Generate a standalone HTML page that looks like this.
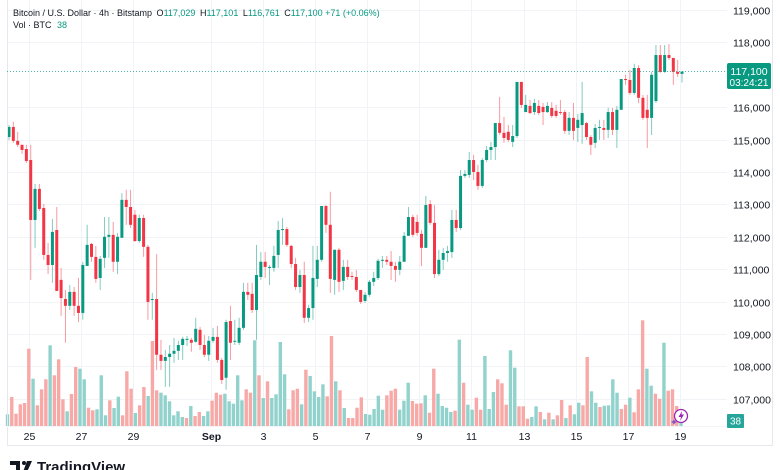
<!DOCTYPE html>
<html><head><meta charset="utf-8">
<style>
html,body{margin:0;padding:0;background:#fff;width:780px;height:470px;overflow:hidden;font-family:"Liberation Sans",sans-serif;}
svg{display:block}
text{font-family:"Liberation Sans",sans-serif}
</style></head>
<body>
<svg id="chart" width="780" height="470" viewBox="0 0 780 470" xmlns="http://www.w3.org/2000/svg">
  <rect x="0" y="0" width="780" height="470" fill="#ffffff"/>
  <g id="grid"></g>
  <g id="vol"></g>
  <g id="candles"></g>
  <g id="axes"></g>
  <line x1="7.5" y1="0" x2="7.5" y2="445" stroke="#e6e8ee"/>
  <line x1="7" y1="445.5" x2="773" y2="445.5" stroke="#e6e8ee"/>
  <line x1="772.5" y1="0" x2="772.5" y2="445" stroke="#e6e8ee"/>
  <line x1="7" y1="426.5" x2="727" y2="426.5" stroke="#f2f3f6"/>
  <text x="13" y="16" font-size="9" fill="#131722">Bitcoin / U.S. Dollar · 4h · Bitstamp <tspan dx="2">O</tspan><tspan fill="#089981">117,029</tspan> <tspan dx="2">H</tspan><tspan fill="#089981">117,101</tspan> <tspan dx="2">L</tspan><tspan fill="#089981">116,761</tspan> <tspan dx="2">C</tspan><tspan fill="#089981">117,100</tspan> <tspan fill="#089981">+71 (+0.06%)</tspan></text>
  <text x="13" y="28" font-size="9" fill="#131722">Vol · BTC <tspan fill="#089981" dx="3">38</tspan></text>
  <line x1="7" y1="71.5" x2="727" y2="71.5" stroke="#089981" stroke-width="1" stroke-dasharray="1,2" opacity="0.7"/>
  <rect x="727" y="63" width="44" height="26" rx="2" fill="#089981"/>
  <text x="749" y="75" font-size="10.5" fill="#fff" text-anchor="middle">117,100</text>
  <text x="749" y="86" font-size="10" fill="#fff" text-anchor="middle">03:24:21</text>
  <rect x="727" y="414" width="17" height="14" rx="1" fill="#26a69a"/>
  <text x="735.5" y="424.5" font-size="10" fill="#fff" text-anchor="middle">38</text>
  <g>
    <circle cx="681" cy="416" r="6.5" fill="#fff" stroke="#9c27b0" stroke-width="1.3"/>
    <path d="M682 411 L678.5 417 L681 417 L680 421 L684 414.5 L681.5 414.5 Z" fill="#9c27b0"/>
    <path d="M674 419 l1 2 l2 1 l-2 1 l-1 2 l-1 -2 l-2 -1 l2 -1 Z" fill="#7e57c2"/>
  </g>
  <g>
    <path d="M10 461 h10 v11 h-4 v-7 h-6 Z" fill="#131722"/>
    <circle cx="24" cy="463" r="2" fill="#131722"/>
    <path d="M27 461 h5 l-5 11 h-4 Z" fill="#131722"/>
    <text x="37" y="472" font-size="15" font-weight="bold" fill="#131722">TradingView</text>
  </g>
</svg>
<script>
// ---- data ----
const open = [115080,115390,114960,114840,114710,114370,112520,113480,112890,111440,111130,112210,110670,110080,109870,110300,109870,109650,111100,111780,111380,110730,111350,112000,112060,111230,111970,113140,112920,112680,111870,112580,111690,110050,110080,108360,108170,108290,108390,108480,108660,108820,108820,108760,109130,108660,108360,108790,108910,108200,107650,109400,108760,108730,109190,110300,110240,109740,110760,111230,111040,111040,111440,112210,112240,111720,111160,110450,110820,109500,109800,110700,111290,112950,112370,110670,111600,110640,111070,110790,110760,110360,110020,110210,110610,110730,111260,111290,111230,111100,110980,111230,112030,112610,112460,112090,111660,113010,112430,110850,111290,111500,111530,112520,112270,113880,113910,114370,114000,113570,114370,114680,114770,115510,115210,115240,114930,115110,116780,115850,116040,115850,116040,116010,115850,115980,115890,115850,115850,115270,115670,115360,115450,115510,115080,114900,115360,115360,115300,115850,115300,115920,116870,116840,116440,117210,116290,115920,115670,116190,117610,117090,117610,117520,117090,117029];
const close = [115390,114960,114840,114680,114340,112520,113480,112860,111440,111130,112150,110330,110110,109870,110300,109870,109650,111130,111750,111380,110700,111320,112000,112060,111230,112000,113140,112920,112370,111870,112580,111690,109990,110080,108360,108170,108290,108390,108480,108660,108850,108850,108730,109160,108660,108360,108790,108910,108200,107580,109370,108730,108790,109190,110300,110210,109740,110820,111230,111070,111070,111410,112210,112240,111750,111160,110450,110820,109500,109800,110730,111290,112950,112370,110700,111600,110610,111070,110760,110760,110360,109990,110210,110610,110730,111260,111290,111230,111100,110980,111230,112030,112610,112060,112120,111660,112980,112430,110850,111290,111500,111560,112520,112270,113880,113940,114370,114000,113570,114370,114680,114770,115510,115210,115050,114990,115110,116780,116070,116070,115820,116130,115820,115850,116040,115730,115730,115820,115270,115670,115270,115610,115820,115080,114840,115360,115390,115300,115850,115300,115920,116870,116840,116440,117210,116290,115670,115670,117000,117610,117090,117610,117520,117090,117030,117100];
const high = [115450,115550,115240,114840,114840,114840,113630,113630,113010,111810,112550,112920,111040,110360,110510,110450,110730,111230,112370,111810,111720,111410,112610,112610,112460,112120,113350,113450,113450,112830,112680,112680,111750,110270,111470,108820,108510,108660,108880,108790,108910,108940,108880,109500,109220,108970,108940,109190,109250,108260,109440,109870,109440,109500,110580,110580,110580,111750,111530,111530,111130,111720,112490,112580,112300,111750,111350,110980,111230,109900,111720,111720,112950,112980,113390,111600,111660,111290,111290,110920,110980,110360,110300,110670,110920,111320,111410,111410,111560,111230,111410,112150,112920,112680,112680,112210,113260,113140,112980,111600,111660,111720,112830,112830,114060,114060,114620,114530,114220,114430,114800,114930,115510,116320,115700,115450,115450,116780,116780,116380,116220,116260,116220,116130,116160,116160,116070,116220,115920,115850,116130,115790,116780,115550,115140,115480,115610,115610,115980,115980,116040,116870,117000,117150,117340,117300,116380,116380,117090,117920,117920,117920,117950,117520,117460,117101];
const low = [114990,114900,114770,114560,114280,110670,111660,112800,111290,110850,110580,110330,109560,108730,109740,109560,109370,109440,111100,111230,110580,110360,111040,111350,110920,110850,111970,112370,112270,111840,111810,111380,109440,109440,107890,107890,107370,107370,108110,108200,108200,108630,108450,108730,108510,108290,108170,108730,108110,107460,107280,108200,108660,108660,109130,110050,109650,108820,110670,110730,110510,110920,111040,111750,111690,111040,110360,110270,109340,109370,109440,110450,111230,112120,110270,110210,110300,110360,110670,110670,110300,109930,109960,110150,110480,110670,111040,111130,110670,110610,110820,111230,112030,112000,112030,111100,111660,112370,110730,110790,110980,111230,111350,112150,112210,113820,113820,113750,113450,113510,114310,114370,114370,115140,114900,114930,114770,115050,115980,115850,115790,115760,115760,115450,115820,115670,115670,115760,115180,115140,114990,114930,114870,114990,114530,114740,114990,114990,115050,115140,114740,115920,116690,116380,116380,116130,115610,114740,115140,116130,117060,117060,117460,116690,116930,116761];
const volume = [117,290,123,217,230,773,473,207,367,467,807,507,667,267,147,320,590,573,467,183,157,167,507,107,257,180,293,107,547,373,130,207,390,300,850,357,333,307,247,107,147,90,80,200,100,140,100,147,253,333,313,323,247,223,507,257,367,333,857,507,280,447,280,317,840,517,167,357,373,217,563,500,347,290,417,297,900,447,357,180,80,80,183,287,120,113,170,303,163,307,353,373,163,253,433,250,223,227,307,133,573,323,200,183,140,153,863,433,213,163,283,163,700,170,340,467,427,213,757,583,197,197,73,90,197,140,67,133,67,107,260,80,207,117,233,207,690,347,233,190,203,207,467,333,170,213,283,137,367,1057,573,403,323,273,833,353,367,200,38];
const volumeDir = [
 "g","r","r","r","r","r","g","r","r","r", "g","r","r","r","g","r","r","g","g","r",
 "r","g","g","g","r","g","g","r","r","r", "g","r","r","g","r","r","g","g","g","g",
 "g","g","r","g","r","r","g","g","r","r", "r","g","g","g","g","g","r","r","g","r",
 "g","r","g","g","g","g","r","r","r","g", "r","g","g","g","g","r","r","g","r","g",
 "r","r","r","r","g","g","g","g","g","r", "r","r","g","g","g","r","r","r","g","r",
 "r","g","g","g","g","r","g","r","g","g", "r","r","g","g","g","r","r","r","g","g",
 "r","r","r","g","g","r","g","r","g","r", "r","g","r","g","g","r","r","g","g","r",
 "g","g","g","g","r","r","g","r","r","r", "g","g","r","r","g","r","r","r","g"];
const priceTicks = [119000,118000,116000,115000,114000,113000,112000,111000,110000,109000,108000,107000];
const dateLabels = ["25","27","29","Sep","3","5","7","9","11","13","15","17","19"];
const dateSlots = [4.5,16.5,28.5,46.5,58.5,70.5,82.5,94.5,106.5,118.5,130.5,142.5,154.5];

// ---- scales ----
const X0 = 9, X1 = 682;
function xC(i){ return X0 + i*(X1-X0)/(close.length-1); }
function xV(i){ return 7.5 + i*(681-7.5)/(volume.length-1); }
function yP(p){ return 10 + (119000-p)*0.0324; }
function hV(v){ return v*0.1; }
const VBASE = 426;
const NS = "http://www.w3.org/2000/svg";
function mk(tag, attrs, parent){ const e=document.createElementNS(NS,tag); for(const k in attrs) e.setAttribute(k,attrs[k]); parent.appendChild(e); return e; }

const grid = document.getElementById('grid');
const axes = document.getElementById('axes');
priceTicks.forEach((p)=>{
  const y = Math.round(yP(p))+0.5;
  const gl = mk('line',{x1:7,y1:y,x2:727,y2:y,stroke:'#f2f3f6'},grid);
  
  
  const t = mk('text',{x:733,y:y+4,'font-size':'10.5',fill:'#131722'},axes);
  t.textContent = p.toLocaleString('en-US');
  
  
});
dateLabels.forEach((d,k)=>{
  const x = Math.round(xC(dateSlots[k]))+0.5;
  const gl = mk('line',{x1:x,y1:0,x2:x,y2:426,stroke:'#f2f3f6'},grid);
  
  
  const t = mk('text',{x:x,y:440,'font-size':'10.5',fill:'#131722','text-anchor':'middle','font-weight':d==='Sep'?'bold':'normal'},axes);
  t.textContent = d;
  
  
});

const vg = document.getElementById('vol');
volume.forEach((v,i)=>{
  const h = hV(v);
  const up = volumeDir[i]==='g';
  const r = mk('rect',{x:xV(i)-1.7,y:VBASE-h,width:3.4,height:h,fill:up?'#92d2cc':'#f7a9a7'},vg);
  
  
});

const cg = document.getElementById('candles');
close.forEach((c,i)=>{
  const o=open[i], up=c>=o, col=up?'#089981':'#f23645';
  const x=xC(i);
  const g = mk('g',{},cg);
  
  
  mk('line',{x1:x,y1:yP(high[i]),x2:x,y2:yP(low[i]),stroke:col,'stroke-width':1,opacity:0.5},g);
  const top=yP(Math.max(o,c)), bot=yP(Math.min(o,c));
  mk('rect',{x:x-1.5,y:top,width:3,height:Math.max(1,bot-top),fill:col},g);
});
</script>
</body></html>
